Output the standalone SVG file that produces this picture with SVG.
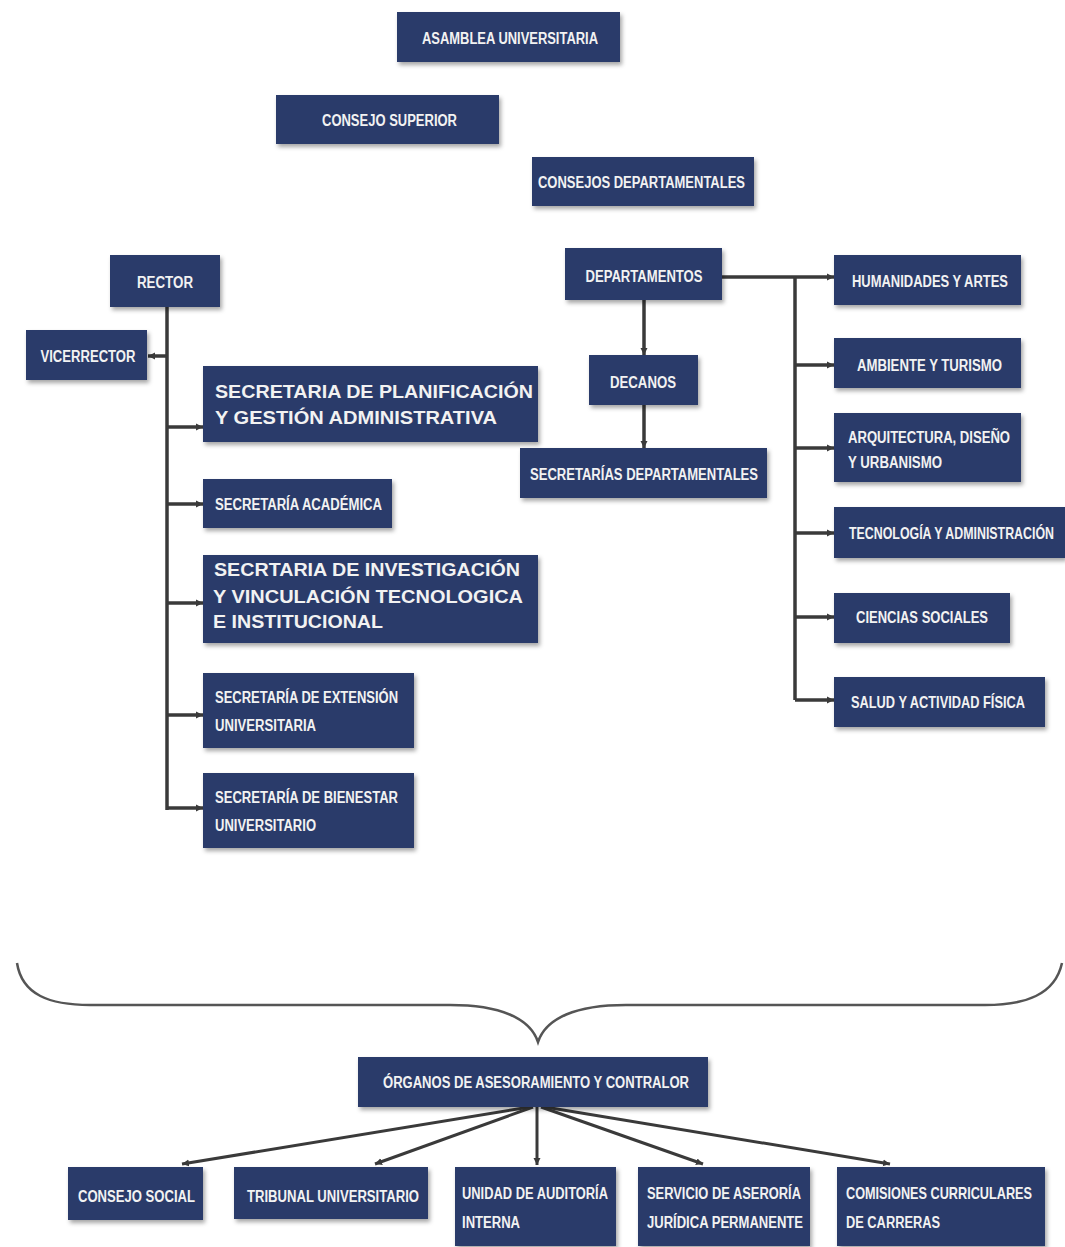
<svg xmlns="http://www.w3.org/2000/svg" width="1065" height="1247" viewBox="0 0 1065 1247">
<style>
.box{fill:#293a6b;filter:url(#sh)}
.t{fill:#f2f2f2;font-family:"Liberation Sans",Arial,sans-serif;font-weight:bold;font-size:16px}
.tc{text-anchor:middle}
.big{font-size:18px}
.sm{font-size:14px}
.xs{font-size:12.5px}
.ln{stroke:#3a3a3a;stroke-width:3.5;fill:none}
.br{stroke:#3a3a3a;stroke-width:3.5;fill:none;marker-end:url(#ah)}
.fan{stroke:#3a3a3a;stroke-width:3;fill:none;marker-end:url(#ah)}
</style>
<defs>
<filter id="sh" x="-10%" y="-20%" width="120%" height="150%">
<feDropShadow dx="2" dy="3" stdDeviation="2" flood-color="#000" flood-opacity="0.35"/>
</filter>
<marker id="ah" markerUnits="userSpaceOnUse" markerWidth="8" markerHeight="8" refX="7" refY="4" orient="auto">
<path d="M0,0.5 L7,4 L0,7.5 Z" fill="#3a3a3a"/>
</marker>
</defs>
<rect width="1065" height="1247" fill="#ffffff"/>

<g id="connectors">
<path class="ln" d="M167 307 V810"/>
<path class="br" d="M167 356 H148"/>
<path class="br" d="M167 427 H203"/>
<path class="br" d="M167 504 H203"/>
<path class="br" d="M167 603 H203"/>
<path class="br" d="M167 715 H203"/>
<path class="br" d="M167 808 H203"/>
<path class="br" d="M722 277 H834"/>
<path class="ln" d="M795 277 V700"/>
<path class="br" d="M795 365 H834"/>
<path class="br" d="M795 448 H834"/>
<path class="br" d="M795 533 H834"/>
<path class="br" d="M795 617 H834"/>
<path class="br" d="M795 700 H834"/>
<path class="br" d="M644 300 V355"/>
<path class="br" d="M644 405 V448"/>
<path class="fan" d="M530 1107 L182 1164"/>
<path class="fan" d="M533 1107 L375 1164"/>
<path class="fan" d="M537 1107 L537 1165"/>
<path class="fan" d="M541 1107 L703 1164"/>
<path class="fan" d="M545 1107 L890 1164"/>
</g>

<g id="brace">
<path d="M17 963 C22 995 50 1005 90 1005 L450 1005 C500 1005 530 1018 538 1042 C546 1018 576 1005 626 1005 L985 1005 C1025 1005 1055 995 1062 963" fill="none" stroke="#555" stroke-width="2.5"/>
</g>

<g id="asamblea"><rect class="box" x="397" y="12" width="223" height="50"/><text class="t tc" x="510" y="44" textLength="176" lengthAdjust="spacingAndGlyphs">ASAMBLEA UNIVERSITARIA</text></g>
<g id="consejo-superior"><rect class="box" x="276" y="95" width="223" height="49"/><text class="t tc" x="389.5" y="126" textLength="135" lengthAdjust="spacingAndGlyphs">CONSEJO SUPERIOR</text></g>
<g id="consejos-departamentales"><rect class="box" x="532" y="157" width="222" height="49"/><text class="t tc" x="641.5" y="188" textLength="207" lengthAdjust="spacingAndGlyphs">CONSEJOS DEPARTAMENTALES</text></g>
<g id="rector"><rect class="box" x="110" y="255" width="110" height="52"/><text class="t tc" x="165" y="288" textLength="56" lengthAdjust="spacingAndGlyphs">RECTOR</text></g>
<g id="vicerrector"><rect class="box" x="26" y="330" width="121" height="50"/><text class="t tc" x="88" y="362" textLength="95" lengthAdjust="spacingAndGlyphs">VICERRECTOR</text></g>
<g id="departamentos"><rect class="box" x="565" y="248" width="157" height="52"/><text class="t tc" x="644" y="282" textLength="117" lengthAdjust="spacingAndGlyphs">DEPARTAMENTOS</text></g>
<g id="humanidades"><rect class="box" x="834" y="255" width="187" height="50"/><text class="t tc" x="930" y="287" textLength="156" lengthAdjust="spacingAndGlyphs">HUMANIDADES Y ARTES</text></g>
<g id="planificacion"><rect class="box" x="203" y="366" width="335" height="76"/><text class="t big" x="215" y="398" textLength="318" lengthAdjust="spacingAndGlyphs">SECRETARIA DE PLANIFICACIÓN</text><text class="t big" x="215" y="424" textLength="282" lengthAdjust="spacingAndGlyphs">Y GESTIÓN ADMINISTRATIVA</text></g>
<g id="decanos"><rect class="box" x="589" y="355" width="109" height="50"/><text class="t tc" x="643" y="388" textLength="66" lengthAdjust="spacingAndGlyphs">DECANOS</text></g>
<g id="ambiente"><rect class="box" x="834" y="338" width="187" height="50"/><text class="t tc" x="929.5" y="371" textLength="145" lengthAdjust="spacingAndGlyphs">AMBIENTE Y TURISMO</text></g>
<g id="arquitectura"><rect class="box" x="834" y="413" width="187" height="69"/><text class="t" x="848" y="443" textLength="162" lengthAdjust="spacingAndGlyphs">ARQUITECTURA, DISEÑO</text><text class="t" x="848" y="468" textLength="94" lengthAdjust="spacingAndGlyphs">Y URBANISMO</text></g>
<g id="secretarias-departamentales"><rect class="box" x="520" y="448" width="247" height="50"/><text class="t tc" x="644" y="480" textLength="228" lengthAdjust="spacingAndGlyphs">SECRETARÍAS DEPARTAMENTALES</text></g>
<g id="academica"><rect class="box" x="203" y="479" width="189" height="49"/><text class="t" x="215" y="510" textLength="167" lengthAdjust="spacingAndGlyphs">SECRETARÍA ACADÉMICA</text></g>
<g id="tecnologia"><rect class="box" x="834" y="507" width="231" height="51"/><text class="t xs" x="849" y="539" textLength="205" lengthAdjust="spacingAndGlyphs" transform="matrix(1 0 0 1.28 0 -150.9)">TECNOLOGÍA Y ADMINISTRACIÓN</text></g>
<g id="investigacion"><rect class="box" x="203" y="555" width="335" height="88"/><text class="t big" x="214" y="576" textLength="306" lengthAdjust="spacingAndGlyphs">SECRTARIA DE INVESTIGACIÓN</text><text class="t big" x="213" y="603" textLength="310" lengthAdjust="spacingAndGlyphs">Y VINCULACIÓN TECNOLOGICA</text><text class="t big" x="213" y="628" textLength="170" lengthAdjust="spacingAndGlyphs">E INSTITUCIONAL</text></g>
<g id="ciencias"><rect class="box" x="834" y="593" width="176" height="50"/><text class="t tc" x="922" y="623" textLength="132" lengthAdjust="spacingAndGlyphs">CIENCIAS SOCIALES</text></g>
<g id="extension"><rect class="box" x="203" y="673" width="211" height="75"/><text class="t" x="215" y="703" textLength="183" lengthAdjust="spacingAndGlyphs">SECRETARÍA DE EXTENSIÓN</text><text class="t" x="215" y="731" textLength="101" lengthAdjust="spacingAndGlyphs">UNIVERSITARIA</text></g>
<g id="salud"><rect class="box" x="834" y="677" width="211" height="50"/><text class="t sm" x="851" y="708" textLength="174" lengthAdjust="spacingAndGlyphs" transform="matrix(1 0 0 1.143 0 -101.2)">SALUD Y ACTIVIDAD FÍSICA</text></g>
<g id="bienestar"><rect class="box" x="203" y="773" width="211" height="75"/><text class="t" x="215" y="803" textLength="183" lengthAdjust="spacingAndGlyphs">SECRETARÍA DE BIENESTAR</text><text class="t" x="215" y="831" textLength="101" lengthAdjust="spacingAndGlyphs">UNIVERSITARIO</text></g>
<g id="organos"><rect class="box" x="358" y="1057" width="350" height="50"/><text class="t tc" x="536" y="1088" textLength="306" lengthAdjust="spacingAndGlyphs">ÓRGANOS DE ASESORAMIENTO Y CONTRALOR</text></g>
<g id="consejo-social"><rect class="box" x="68" y="1167" width="135" height="53"/><text class="t tc" x="136.5" y="1202" textLength="117" lengthAdjust="spacingAndGlyphs">CONSEJO SOCIAL</text></g>
<g id="tribunal"><rect class="box" x="234" y="1167" width="194" height="52"/><text class="t tc" x="333" y="1202" textLength="172" lengthAdjust="spacingAndGlyphs">TRIBUNAL UNIVERSITARIO</text></g>
<g id="unidad-auditoria"><rect class="box" x="455" y="1167" width="161" height="79"/><text class="t" x="462" y="1199" textLength="146" lengthAdjust="spacingAndGlyphs">UNIDAD DE AUDITORÍA</text><text class="t" x="462" y="1228" textLength="58" lengthAdjust="spacingAndGlyphs">INTERNA</text></g>
<g id="servicio-aseroria"><rect class="box" x="638" y="1167" width="172" height="79"/><text class="t" x="647" y="1199" textLength="154" lengthAdjust="spacingAndGlyphs">SERVICIO DE ASERORÍA</text><text class="t" x="647" y="1228" textLength="156" lengthAdjust="spacingAndGlyphs">JURÍDICA PERMANENTE</text></g>
<g id="comisiones"><rect class="box" x="837" y="1167" width="208" height="79"/><text class="t sm" x="846" y="1199" textLength="186" lengthAdjust="spacingAndGlyphs" transform="matrix(1 0 0 1.143 0 -171.5)">COMISIONES CURRICULARES</text><text class="t" x="846" y="1228" textLength="94" lengthAdjust="spacingAndGlyphs">DE CARRERAS</text></g>
</svg>
